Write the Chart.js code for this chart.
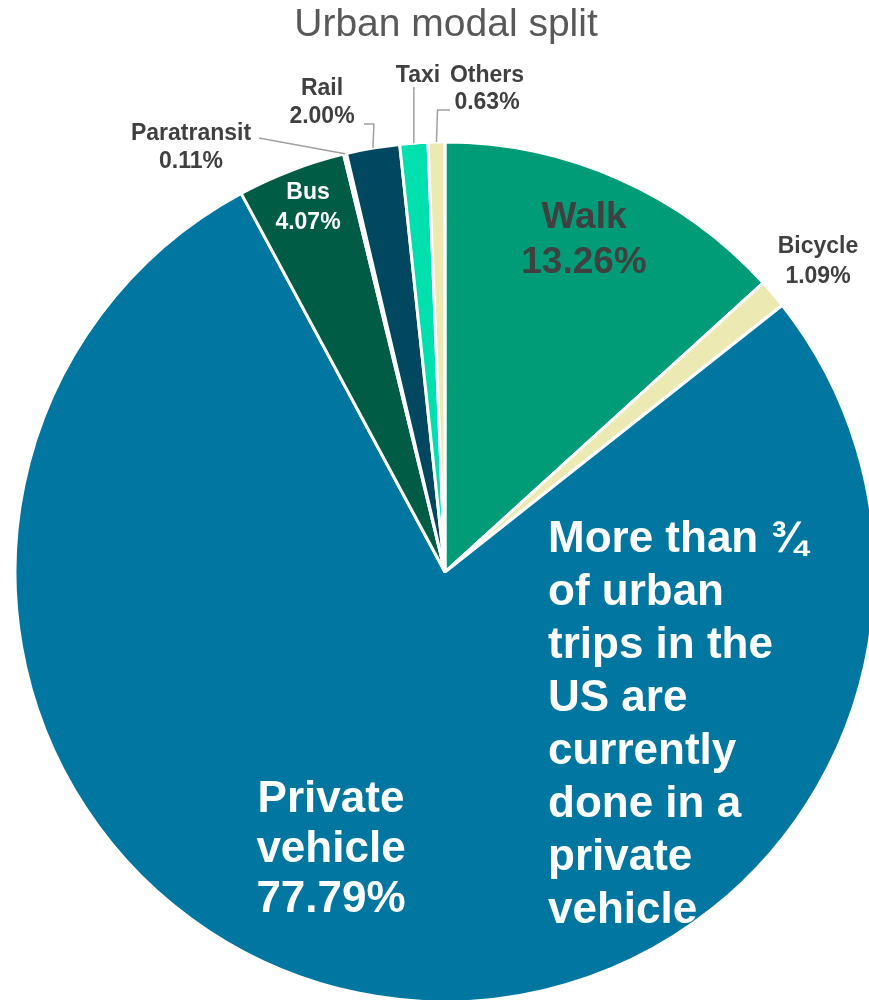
<!DOCTYPE html>
<html>
<head>
<meta charset="utf-8">
<script src="https://cdn.jsdelivr.net/npm/chart.js@4/dist/chart.umd.min.js"></script>
<style>
  html, body { margin: 0; padding: 0; background: #fff; overflow: hidden; }
  #wrap { width: 890px; height: 1010px; }
</style>
</head>
<body>
<div id="wrap"><canvas id="pieChart" width="890" height="1010"></canvas></div>
<script>
const modes = ["Walk", "Bicycle", "Private vehicle", "Bus", "Paratransit", "Rail", "Taxi", "Others"];
const shares = [13.26, 1.09, 77.79, 4.07, 0.11, 2.00, 1.05, 0.63];
const sliceColors = ["#009B77", "#EDE9B3", "#0076A0", "#005C45", "#D8D8D8", "#00475F", "#00E0AE", "#EDE9B3"];
const noteLines = ["More than \u00BE", "of urban", "trips in the", "US are", "currently", "done in a", "private", "vehicle"];

const FONT = "'Liberation Sans', Arial, sans-serif";

// where each slice label sits: text centre x, first baseline, line gap, size, colour
// lead: how the leader line bends from the text to the slice edge
const labelSpots = {
  "Walk":            { x: 584, y: 228, gap: 45, size: 37, color: "#404040" },
  "Bicycle":         { x: 818, y: 253, gap: 30, size: 23, color: "#404040" },
  "Private vehicle": { x: 331, y: 812, gap: 50, size: 44, color: "#ffffff", split: true },
  "Bus":             { x: 308, y: 199, gap: 30, size: 23, color: "#ffffff" },
  "Paratransit":     { x: 191, y: 140, gap: 28, size: 23, color: "#404040", lead: { from: [259, 138] } },
  "Rail":            { x: 322, y: 95,  gap: 28, size: 23, color: "#404040", lead: { from: [364, 124], elbow: true } },
  "Taxi":            { x: 418, y: 82,  gap: 28, size: 23, color: "#404040", noValue: true, lead: { from: [415, 88], vertical: true } },
  "Others":          { x: 487, y: 82,  gap: 27, size: 23, color: "#404040", lead: { from: [450, 110], elbow: true } }
};

const labelPlugin = {
  id: "sliceLabels",
  afterDraw(chart) {
    const ctx = chart.ctx;
    const arcs = chart.getDatasetMeta(0).data;
    ctx.save();

    // leader lines first so the text stays on top
    ctx.strokeStyle = "#A0A0A0";
    ctx.lineWidth = 1.5;
    arcs.forEach((arc, i) => {
      const spot = labelSpots[modes[i]];
      if (!spot || !spot.lead) return;
      const mid = (arc.startAngle + arc.endAngle) / 2;
      const ex = arc.x + Math.cos(mid) * arc.outerRadius;
      const ey = arc.y + Math.sin(mid) * arc.outerRadius;
      const [fx, fy] = spot.lead.from;
      ctx.beginPath();
      ctx.moveTo(fx, fy);
      if (spot.lead.elbow) ctx.lineTo(ex + 1, fy);
      if (spot.lead.vertical) ctx.lineTo(ex, fy);
      ctx.lineTo(ex, ey);
      ctx.stroke();
    });

    ctx.textAlign = "center";
    ctx.textBaseline = "alphabetic";
    modes.forEach((name, i) => {
      const spot = labelSpots[name];
      if (!spot) return;
      const lines = spot.split ? name.split(" ") : [name];
      if (!spot.noValue) lines.push(shares[i].toFixed(2) + "%");
      ctx.fillStyle = spot.color;
      ctx.font = "bold " + spot.size + "px " + FONT;
      lines.forEach((t, k) => ctx.fillText(t, spot.x, spot.y + k * spot.gap));
    });

    // call-out text over the private vehicle slice
    ctx.textAlign = "left";
    ctx.fillStyle = "#ffffff";
    ctx.font = "bold 44px " + FONT;
    noteLines.forEach((t, k) => ctx.fillText(t, 548, 552 + k * 53));

    // title
    ctx.textAlign = "center";
    ctx.fillStyle = "#595959";
    ctx.font = "39px " + FONT;
    ctx.fillText("Urban modal split", 446, 36);

    ctx.restore();
  }
};

new Chart(document.getElementById("pieChart"), {
  type: "pie",
  data: {
    labels: modes,
    datasets: [{
      data: shares,
      backgroundColor: sliceColors,
      borderColor: "#ffffff",
      borderWidth: 3,
      radius: 430
    }]
  },
  options: {
    responsive: false,
    animation: false,
    layout: { padding: { left: 15, right: 15, top: 142, bottom: 8 } },
    plugins: {
      legend: { display: false },
      tooltip: { enabled: false },
      title: { display: false }
    }
  },
  plugins: [labelPlugin]
});
</script>
</body>
</html>
